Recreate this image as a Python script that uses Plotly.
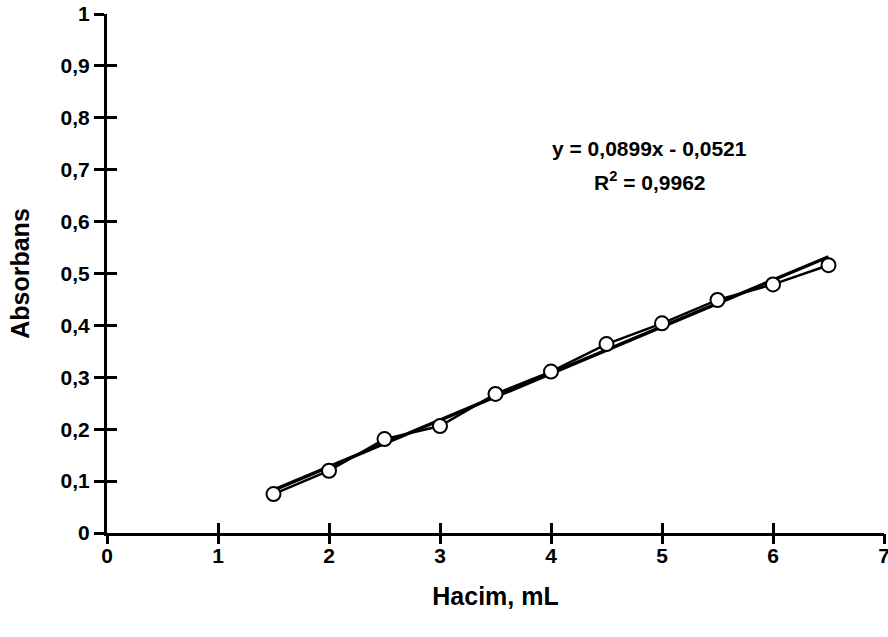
import plotly.graph_objects as go

# Data
hacim = [1.5, 2.0, 2.5, 3.0, 3.5, 4.0, 4.5, 5.0, 5.5, 6.0, 6.5]
absorbans = [0.075, 0.120, 0.181, 0.206, 0.268, 0.311, 0.364, 0.404, 0.449, 0.479, 0.516]
slope = 0.0899
intercept = -0.0521
eq_text = "y = 0,0899x - 0,0521"
r2_text = "R<sup>2</sup> = 0,9962"
x_ticks = [0, 1, 2, 3, 4, 5, 6, 7]
y_ticks = [0, 0.1, 0.2, 0.3, 0.4, 0.5, 0.6, 0.7, 0.8, 0.9, 1.0]
y_ticktext = ["0", "0,1", "0,2", "0,3", "0,4", "0,5", "0,6", "0,7", "0,8", "0,9", "1"]

FONT = "Liberation Sans"
trend_x = [hacim[0], hacim[-1]]
trend_y = [slope * v + intercept for v in trend_x]

fig = go.Figure()
fig.add_trace(go.Scatter(x=trend_x, y=trend_y, mode="lines",
                         line=dict(color="black", width=3.5), hoverinfo="skip"))
fig.add_trace(go.Scatter(x=hacim, y=absorbans, mode="lines+markers",
                         line=dict(color="black", width=2.5),
                         marker=dict(symbol="circle", size=14, color="white",
                                     line=dict(color="black", width=2))))
# invisible traces for the overlay axes (cross ticks)
fig.add_trace(go.Scatter(x=[0], y=[0], xaxis="x2", yaxis="y2", mode="markers",
                         marker=dict(opacity=0), hoverinfo="skip"))
fig.add_trace(go.Scatter(x=[0], y=[0], xaxis="x3", yaxis="y", mode="markers",
                         marker=dict(opacity=0), hoverinfo="skip"))

tickfont = dict(family=FONT, size=21, color="black", weight="bold")
titlefont = dict(family=FONT, size=25, color="black", weight="bold")
annfont = dict(family=FONT, size=21, color="black", weight="bold")

common_overlay = dict(tickwidth=3, tickcolor="black", showticklabels=False,
                      showline=False, showgrid=False, zeroline=False, ticklen=10,
                      automargin=False)

fig.update_layout(
    width=888, height=637,
    margin=dict(l=107, r=4, t=14, b=104),
    paper_bgcolor="white", plot_bgcolor="white",
    showlegend=False,
    xaxis=dict(range=[0, 7], tickvals=x_ticks, ticks="outside", ticklen=2,
               tickwidth=3, tickcolor="black", showline=True, linewidth=3,
               linecolor="black", showgrid=False, zeroline=False,
               tickfont=tickfont, ticklabeloverflow="allow", automargin=False,
               title=dict(text="Hacim, mL", font=titlefont, standoff=22)),
    yaxis=dict(range=[0, 1], tickvals=y_ticks, ticktext=y_ticktext,
               ticks="outside", ticklen=10, tickwidth=3, tickcolor="black",
               showline=True, linewidth=3, linecolor="black",
               showgrid=False, zeroline=False, tickfont=tickfont,
               automargin=False,
               title=dict(text="Absorbans", font=titlefont, standoff=24)),
    xaxis2=dict(range=[0, 7], tickvals=x_ticks, ticks="inside",
                overlaying="x", anchor="y", **common_overlay),
    xaxis3=dict(range=[0, 7], tickvals=x_ticks, ticks="outside",
                overlaying="x", anchor="y", **common_overlay),
    yaxis2=dict(range=[0, 1], tickvals=y_ticks, ticks="inside",
                overlaying="y", anchor="x", **common_overlay),
    annotations=[
        dict(x=4.89, y=0.740, xref="x", yref="y", text=eq_text, showarrow=False,
             font=annfont),
        dict(x=4.89, y=0.678, xref="x", yref="y", text=r2_text, showarrow=False,
             font=annfont),
    ],
)

fig.write_html("out.html")
